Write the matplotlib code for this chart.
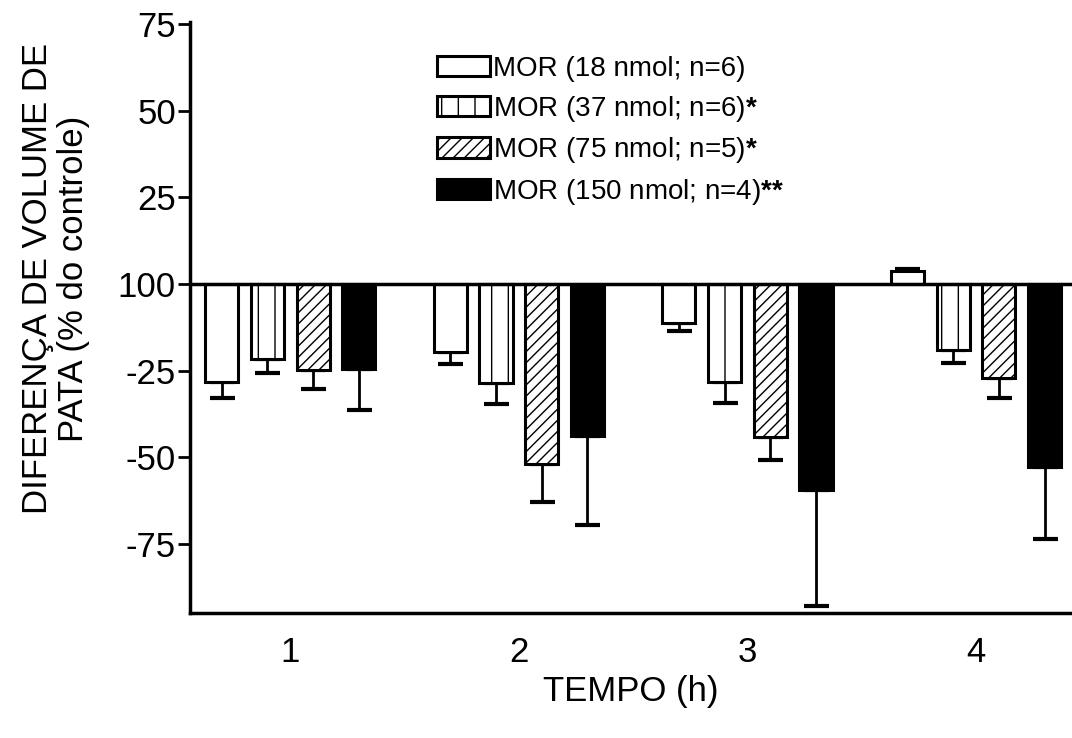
import numpy as np
import matplotlib
matplotlib.use('Agg')
import matplotlib.pyplot as plt

plt.rcParams['font.family'] = ['Liberation Sans', 'DejaVu Sans']
plt.rcParams['mathtext.fontset'] = 'custom'
plt.rcParams['mathtext.bf'] = 'Liberation Sans:bold'
plt.rcParams['mathtext.rm'] = 'Liberation Sans'
plt.rcParams['hatch.linewidth'] = 1.0

# dados
tempos = [1, 2, 3, 4]
labels = ['MOR (18 nmol; n=6)',
          r'MOR (37 nmol; n=6)$\mathbf{{*}}$',
          r'MOR (75 nmol; n=5)$\mathbf{{*}}$',
          r'MOR (150 nmol; n=4)$\mathbf{{*}{*}}$']
mor18 = [-28.4, -19.5, -11.2, 3.6]
mor18_err = [4.6, 3.5, 2.3, 0.8]
mor37 = [-21.6, -28.7, -28.4, -19.0]
mor37_err = [4.0, 5.8, 6.0, 3.7]
mor75 = [-24.7, -52.0, -44.3, -27.0]
mor75_err = [5.5, 11.0, 6.6, 6.0]
mor150 = [-24.4, -44.0, -59.5, -52.9]
mor150_err = [12.0, 25.5, 33.3, 20.7]

yticks = [-75, -50, -25, 0, 25, 50, 75]
yticklabels = ['-75', '-50', '-25', '100', '25', '50', '75']

series = [mor18, mor37, mor75, mor150]
errs = [mor18_err, mor37_err, mor75_err, mor150_err]
cores = ['white', 'white', 'white', 'black']
hatches = ['', '|', '///', '']
offsets = [-0.3, -0.1, 0.1, 0.3]

fig = plt.figure(figsize=(10.72, 7.38), dpi=100)
ax = fig.add_axes([0.177, 0.169, 0.823, 0.801])

x = np.array(tempos, dtype=float)
for k in range(4):
    vals = np.array(series[k])
    e = np.array(errs[k])
    # barra de erro so para o lado do valor
    lower = np.where(vals < 0, e, 0)
    upper = np.where(vals >= 0, e, 0)
    ax.bar(x + offsets[k], vals, width=0.145, color=cores[k], edgecolor='black',
           linewidth=2.2, hatch=hatches[k], label=labels[k], zorder=2)
    ax.errorbar(x + offsets[k], vals, yerr=[lower, upper], fmt='none', ecolor='black',
                elinewidth=2, capsize=9, capthick=3, zorder=1)

ax.axhline(0, color='black', linewidth=2.5, zorder=3)

ax.set_xlim(0.56, 4.42)
ax.set_ylim(-95, 75.5)
ax.set_xticks(tempos)
ax.set_xticklabels([str(t) for t in tempos], fontsize=25)
ax.tick_params(axis='x', length=0, pad=16)
ax.set_yticks(yticks)
ax.set_yticklabels(yticklabels, fontsize=25)
ax.tick_params(axis='y', direction='out', length=9, width=2, pad=1)

for s in ['top', 'right']:
    ax.spines[s].set_visible(False)
for s in ['left', 'bottom']:
    ax.spines[s].set_linewidth(2.5)

ax.set_xlabel('TEMPO (h)', fontsize=25, labelpad=5)
ax.set_ylabel('DIFERENÇA DE VOLUME DE\nPATA (% do controle)', fontsize=25,
              linespacing=1.1)
ax.yaxis.set_label_coords(-0.113, 0.566)

leg = ax.legend(loc='upper left', bbox_to_anchor=(0.252, 0.985), frameon=False, fontsize=20,
                handlelength=1.9, handleheight=0.75, handletextpad=0.12, labelspacing=0.42)

fig.savefig('out.png', dpi=100)
